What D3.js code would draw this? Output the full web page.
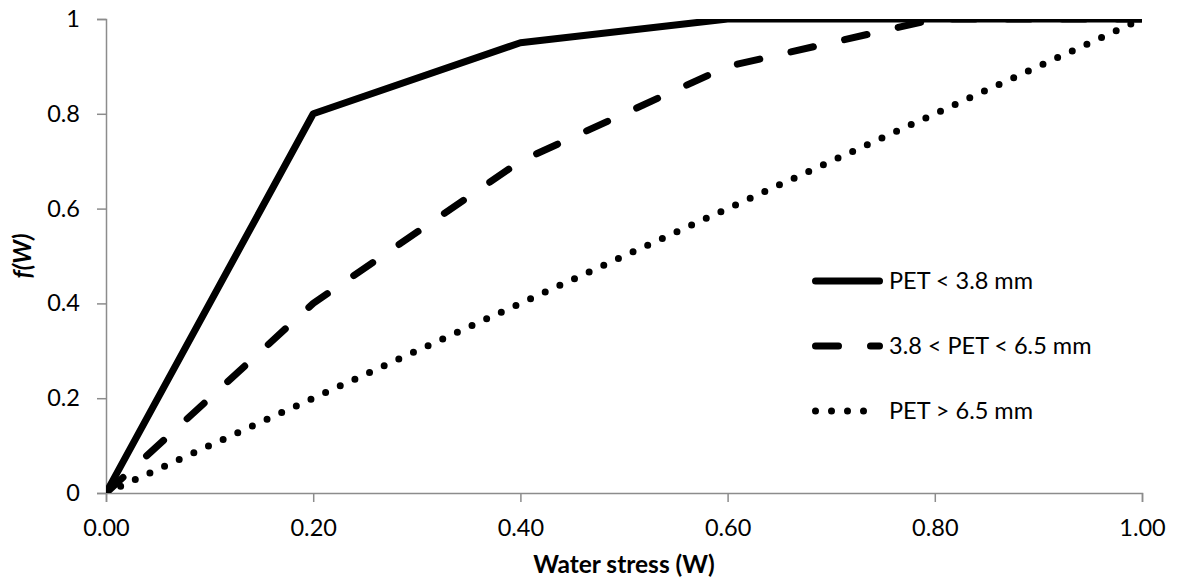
<!DOCTYPE html>
<html>
<head>
<meta charset="utf-8">
<script src="https://cdn.jsdelivr.net/npm/d3@7"></script>
<style>
    body { margin: 0; background: #fff; }
    text { font-family: Lato, "Open Sans", sans-serif; fill: #000; }
</style>
</head>
<body>
<div id="plot"></div>
<script>
// values
let stress = [0, 0.2, 0.4, 0.6, 0.8, 1.0];
let lowPet = [0, 0.8, 0.95, 1.0, 1.0, 1.0];
let midPet = [0, 0.4, 0.7, 0.9, 1.0, 1.0];
let highPet = [0, 0.2, 0.4, 0.6, 0.8, 1.0];
let seriesNames = ["PET < 3.8 mm", "3.8 < PET < 6.5 mm", "PET > 6.5 mm"];
let xTicks = [0, 0.2, 0.4, 0.6, 0.8, 1.0];
let yTicks = [0, 0.2, 0.4, 0.6, 0.8, 1];

let width = 1178;
let height = 583;
let plotLeft = 106, plotRight = 1142, plotTop = 19, plotBottom = 493;
let lineWidth = 7;
let labelSize = "23.5px";
let titleSize = "24.5px";

let svg = d3.select("#plot")
    .append("svg")
    .attr("width", width)
    .attr("height", height);

let xScale = d3.scaleLinear().domain([0, 1]).range([plotLeft, plotRight]);
let yScale = d3.scaleLinear().domain([0, 1]).range([plotBottom, plotTop]);

let styles = [
    { dash: null },
    { dash: "23 32" },
    { dash: "0 16.1" }
];

svg.append("clipPath").attr("id", "plotArea")
    .append("rect")
    .attr("x", plotLeft).attr("y", plotTop)
    .attr("width", plotRight - plotLeft).attr("height", plotBottom - plotTop);

// axes
let xAxis = d3.axisBottom(xScale)
    .tickValues(xTicks)
    .tickSize(9)
    .tickPadding(6)
    .tickFormat(d3.format(".2f"));

let gx = svg.append("g")
    .attr("transform", "translate(0," + plotBottom + ")")
    .call(xAxis);

let yAxis = d3.axisLeft(yScale)
    .tickValues(yTicks)
    .tickSize(9)
    .tickPadding(17)
    .tickFormat(d => d === 0 || d === 1 ? String(d) : d3.format(".1f")(d));

let gy = svg.append("g")
    .attr("transform", "translate(" + plotLeft + ",0)")
    .call(yAxis);

[gx, gy].forEach(g => {
    g.select(".domain").attr("stroke", "#8c8c8c").attr("stroke-width", 1.5);
    g.selectAll(".tick line").attr("stroke", "#8c8c8c").attr("stroke-width", 1.5);
    g.selectAll(".tick text")
        .style("font-family", "Lato")
        .style("font-size", labelSize)
        .attr("fill", "#000");
});
gx.selectAll(".tick text").attr("dy", "1.2em");

// series
let line = d3.line()
    .x(d => xScale(d[0]))
    .y(d => yScale(d[1]));

let allSeries = [lowPet, midPet, highPet];

allSeries.forEach((values, i) => {
    let points = stress.map((s, j) => [s, values[j]]);
    svg.append("path")
        .attr("clip-path", "url(#plotArea)")
        .attr("d", line(points))
        .attr("fill", "none")
        .attr("stroke", "#000")
        .attr("stroke-width", lineWidth)
        .attr("stroke-linejoin", "round")
        .attr("stroke-linecap", "round")
        .attr("stroke-dasharray", styles[i].dash);
});

// legend
let legendY = [281, 346, 411];
seriesNames.forEach((name, i) => {
    svg.append("line")
        .attr("x1", 815.5).attr("x2", 879.5)
        .attr("y1", legendY[i]).attr("y2", legendY[i])
        .attr("stroke", "#000")
        .attr("stroke-width", lineWidth)
        .attr("stroke-linecap", "round")
        .attr("stroke-dasharray", i === 2 ? "0 16" : styles[i].dash);

    svg.append("text")
        .attr("x", 889)
        .attr("y", legendY[i] + 8)
        .style("font-size", labelSize)
        .text(name);
});

// axis titles
svg.append("text")
    .attr("x", (plotLeft + plotRight) / 2)
    .attr("y", 573)
    .style("text-anchor", "middle")
    .style("font-size", titleSize)
    .style("font-weight", "bold")
    .text("Water stress (W)");

let yLabelCenter = { x: 31, y: (plotTop + plotBottom) / 2 };
svg.append("text")
    .attr("x", yLabelCenter.x)
    .attr("y", yLabelCenter.y)
    .style("text-anchor", "middle")
    .style("font-size", titleSize)
    .style("font-weight", "bold")
    .style("font-style", "italic")
    .attr("transform", "rotate(-90," + yLabelCenter.x + "," + yLabelCenter.y + ")")
    .text("f(W)");
</script>
</body>
</html>
